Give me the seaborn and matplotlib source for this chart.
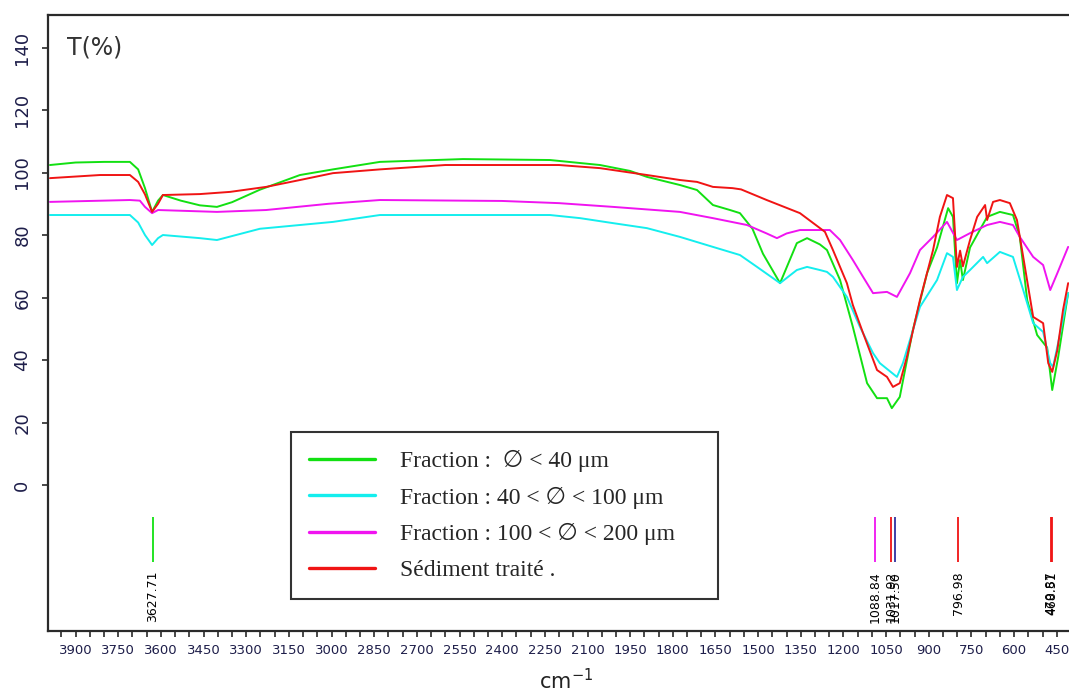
"""FTIR transmittance spectra of the sediment fractions (T% vs wavenumber)."""
import matplotlib
matplotlib.use('Agg')
import matplotlib.pyplot as plt
import seaborn as sns
import pandas as pd
from matplotlib.lines import Line2D
from matplotlib.ticker import MultipleLocator, FixedLocator

# %%
# Spectra (wavenumber in cm-1, transmittance in %)
wn_green = [3990, 3900, 3800, 3709, 3680, 3656, 3631, 3610, 3593, 3530, 3463, 3403, 3350, 3252, 3111,
            2995, 2830, 2538, 2232, 2056, 1950, 1891, 1775, 1715, 1659, 1599, 1564, 1520, 1483, 1423,
            1364, 1328, 1283, 1258, 1212, 1167, 1117, 1082, 1047, 1030, 1002, 956, 906, 871, 832, 815,
            801, 790, 780, 755, 695, 650, 604, 580, 554, 519, 484, 466, 445, 410]
t_green = [102.4, 103.2, 103.4, 103.4, 101, 95, 87.4, 91, 92.8, 91, 89.5, 89, 90.5, 94.5, 99.2,
           101, 103.4, 104.3, 104, 102.4, 100.5, 98.6, 96, 94.4, 89.6, 88, 87, 82, 74, 64.6,
           77.4, 79, 77, 75.2, 65.6, 50.6, 32.6, 27.8, 27.8, 24.6, 28.2, 49.6, 67.8, 76, 88.6, 85.8,
           64.6, 72, 65.6, 76, 85.8, 87.4, 86.4, 79.4, 59.2, 48, 44, 30.4, 41, 61.4]

wn_cyan = [3990, 3709, 3680, 3656, 3631, 3610, 3593, 3463, 3403, 3252, 2995, 2830, 2232, 2126, 2010,
           1891, 1775, 1659, 1564, 1504, 1423, 1364, 1328, 1283, 1258, 1237, 1188, 1142, 1096, 1072,
           1012, 991, 931, 871, 836, 815, 801, 780, 755, 709, 695, 650, 604, 568, 533, 498, 473, 463,
           438, 410]
t_cyan = [86.4, 86.4, 84, 80, 76.8, 79, 80, 79, 78.4, 82, 84.2, 86.4, 86.4, 85.4, 83.8,
          82.2, 79.4, 76.2, 73.6, 69.8, 64.6, 68.8, 69.8, 68.8, 68.2, 66.6, 60.2, 50.6, 42.2, 39,
          34.6, 39, 57, 65.6, 74.2, 73, 62.4, 66.6, 68.8, 73, 71, 74.6, 73, 62.4, 51.8, 49, 39, 37.8,
          48.6, 61.4]

wn_magenta = [3990, 3709, 3674, 3656, 3631, 3610, 3403, 3230, 3010, 2830, 2400, 2200, 2010, 1775,
              1659, 1539, 1470, 1434, 1400, 1353, 1248, 1212, 1167, 1131, 1096, 1047, 1012, 966,
              931, 885, 836, 801, 755, 695, 650, 604, 580, 533, 498, 473, 448, 410]
t_magenta = [90.6, 91.2, 91, 89, 87, 88, 87.4, 88, 90, 91.2, 90.9, 90.2, 89, 87.4,
             85.4, 83.2, 80.5, 79, 80.5, 81.6, 81.6, 78.4, 72, 66.6, 61.4, 61.8, 60.2, 67.8,
             75.2, 79.4, 84.2, 78.4, 80.6, 83.2, 84.2, 83.2, 79.4, 73, 70.4, 62.4, 67.8, 76.2]

wn_red = [3990, 3814, 3709, 3680, 3656, 3631, 3610, 3593, 3463, 3357, 3230, 3111, 2995, 2830, 2600,
          2200, 2056, 1891, 1775, 1715, 1659, 1590, 1560, 1470, 1353, 1265, 1237, 1188, 1167, 1131,
          1082, 1047, 1026, 1002, 977, 931, 885, 861, 836, 815, 801, 790, 780, 755, 730, 702, 695,
          674, 650, 615, 590, 568, 533, 498, 480, 466, 448, 428, 410]
t_red = [98.2, 99.2, 99.2, 97, 93, 87.4, 90, 92.8, 93.1, 93.8, 95.4, 97.6, 99.8, 101, 102.4,
         102.4, 101.4, 99.2, 97.6, 97, 95.4, 95, 94.6, 91.2, 87, 81, 75.2, 64.6, 57.6, 48.6,
         36.8, 34.6, 31.4, 32.6, 41, 59.2, 75.2, 85.8, 92.8, 91.8, 69.8, 75, 70, 78.4, 85.8, 89.6, 84.8,
         90.6, 91.2, 90.2, 84.8, 73, 53.8, 51.8, 39, 36.2, 43.2, 56, 64.6]

series_names = ['Fraction :  \u2205 < 40 \u03bcm',
                'Fraction : 40 < \u2205 < 100 \u03bcm',
                'Fraction : 100 < \u2205 < 200 \u03bcm',
                'S\u00e9diment trait\u00e9 .']
series_colors = ['#12e012', '#14eeee', '#f014f0', '#f01414']

# peak picks shown as small sticks under the spectra
peak_pos = [3627.71, 1088.84, 1031.92, 1017.50, 796.98, 470.87, 468.51]
peak_labels = ['3627.71', '1088.84', '1031.92', '1017.50', '796.98', '470.87', '468.51']
peak_colors = ['#12e012', '#f014f0', '#f01414', '#3030a0', '#f01414', '#f01414', '#f01414']

x_ticks = list(range(3900, 449, -150))
x_ticklabels = [str(v) for v in x_ticks]
y_ticks = [0, 20, 40, 60, 80, 100, 120, 140]

# %%
frames = []
for name, wn, t in zip(series_names,
                       [wn_green, wn_cyan, wn_magenta, wn_red],
                       [t_green, t_cyan, t_magenta, t_red]):
    frames.append(pd.DataFrame({'wn': wn, 'T': t, 'fraction': name}))
df = pd.concat(frames, ignore_index=True)

sns.set_style('white')
plt.rcParams['font.family'] = ['DejaVu Sans']

fig = plt.figure(figsize=(10.69, 6.97), dpi=100)
ax = fig.add_axes([48 / 1069, 66 / 697, 1021 / 1069, 616 / 697])

sns.lineplot(data=df, x='wn', y='T', hue='fraction', hue_order=series_names,
             palette=series_colors, estimator=None, sort=False, linewidth=1.4,
             legend=False, ax=ax)

ax.set_xlim(3997, 407)
ax.set_ylim(-46.7, 150.4)

# peak sticks + labels (they pile up in the original too)
ax.vlines(peak_pos, -24.6, -10.2, colors=peak_colors, linewidth=1.3)
for p, lab in zip(peak_pos, peak_labels):
    ax.text(p, -27.5, lab, rotation=90, ha='center', va='top', fontsize=9, color='black')

# axes styling
for side in ['left', 'bottom', 'top']:
    ax.spines[side].set_color('#2a2a2a')
    ax.spines[side].set_linewidth(1.6)
ax.spines['right'].set_visible(False)

ax.xaxis.set_major_locator(FixedLocator(x_ticks))
ax.set_xticklabels(x_ticklabels)
ax.xaxis.set_minor_locator(MultipleLocator(50))
ax.tick_params(axis='x', which='both', direction='out', length=4, width=1.2, color='#2a2a2a',
               bottom=True, top=False)
ax.tick_params(axis='x', which='major', labelsize=9.5, labelcolor='#1e1e4a', pad=5)

ax.set_yticks(y_ticks)
ax.set_yticklabels([str(v) for v in y_ticks], rotation=90, va='center')
ax.tick_params(axis='y', direction='out', length=4, width=1.2, color='#2a2a2a', left=True,
               labelsize=13, labelcolor='#1e1e4a', pad=8)

ax.set_xlabel('')
ax.set_ylabel('')
ax.text(0.019, 0.948, 'T(%)', transform=ax.transAxes, fontsize=17, color='#333333',
        ha='left', va='center')
fig.text(0.53, 0.024, r'cm$^{\mathregular{-1}}$', fontsize=15, color='#222222',
         ha='center', va='center')

# legend
handles = [Line2D([0], [0], color=c, linewidth=2.4) for c in series_colors]
leg = ax.legend(handles, series_names, loc='upper left', bbox_to_anchor=(0.238, 0.323, 0.418, 0.0),
                mode='expand', frameon=True, fancybox=False, borderpad=0.76, labelspacing=0.61,
                handlelength=2.8, handletextpad=1.06, borderaxespad=0.0,
                prop={'family': ['Liberation Serif', 'DejaVu Sans'], 'size': 17})
leg.get_frame().set_edgecolor('black')
leg.get_frame().set_linewidth(1.5)

plt.savefig('out.png', dpi=100)
